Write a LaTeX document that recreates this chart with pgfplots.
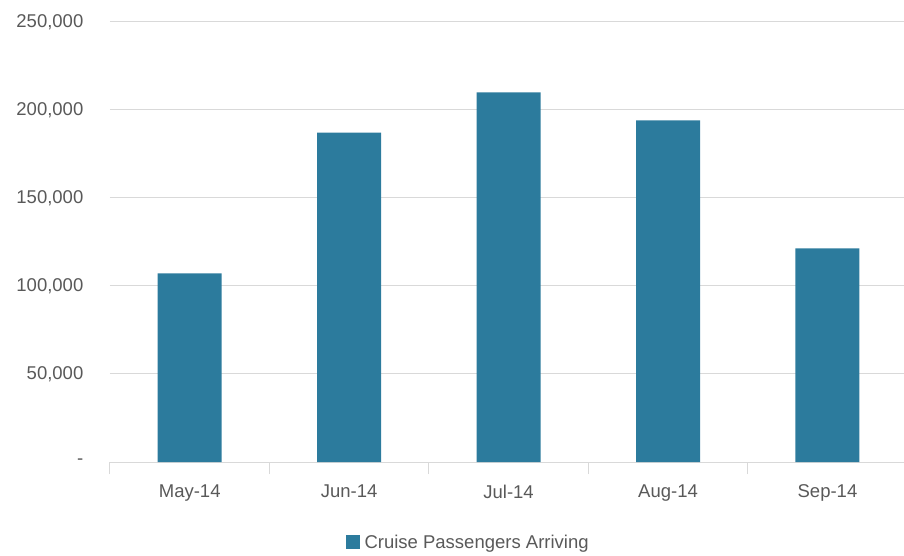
\documentclass[border=0pt]{standalone}
\usepackage{pgfplots}
\pgfplotsset{compat=1.18}
\usepackage{fontspec}
\setmainfont{Liberation Sans}
\definecolor{barcol}{HTML}{2C7B9D}
\definecolor{txt}{HTML}{595959}
\definecolor{gridc}{HTML}{D9D9D9}
\begin{document}
\begin{tikzpicture}
\begin{axis}[
  scale only axis,
  anchor=south west,
  at={(0pt,0pt)},
  width=794pt, height=440pt,
  xmin=-0.5, xmax=4.48,
  ymin=0, ymax=250000,
  axis x line=bottom,
  axis y line=left,
  axis line style={-, draw=gridc, line width=1pt},
  y axis line style={draw=none},
  ytick={0,50000,100000,150000,200000,250000},
  yticklabels={{-},{50,000},{100,000},{150,000},{200,000},{250,000}},
  ymajorgrids,
  grid style={draw=gridc, line width=1pt},
  ytick style={draw=none},
  xtick={0,1,2,3,4},
  xticklabels={May-14,Jun-14,Jul-14,Aug-14,Sep-14},
  xtick style={draw=none},
  extra x ticks={-0.5,0.5,1.5,2.5,3.5},
  extra x tick labels={},
  extra x tick style={xtick style={draw=gridc, line width=1pt}, major tick length=12pt, tick align=outside, grid=none},
  /pgf/number format/assume math mode=true,
  ticklabel style={font=\fontsize{18.5}{22}\selectfont, text=txt},
  yticklabel style={anchor=east, xshift=-21pt},
  xticklabel style={anchor=north, yshift=-17pt},
  scaled y ticks=false,
  legend style={at={(0.451,-0.182)}, anchor=center, draw=none, fill=none,
    font=\fontsize{18.5}{22}\selectfont, text=txt},
  legend image code/.code={\fill[barcol] (0pt,-7pt) rectangle (14pt,7pt);},
  /tikz/every odd column/.append style={column sep=3pt},
]
\addplot[ybar, bar width=64pt, fill=barcol, draw=none] coordinates {
  (0,107200) (1,187100) (2,210000) (3,194100) (4,121400)
};
\addlegendentry{Cruise Passengers Arriving}
\end{axis}
\pgfresetboundingbox
\path[use as bounding box] (-110pt,-94pt) rectangle (794pt,462pt);
\end{tikzpicture}
\end{document}
